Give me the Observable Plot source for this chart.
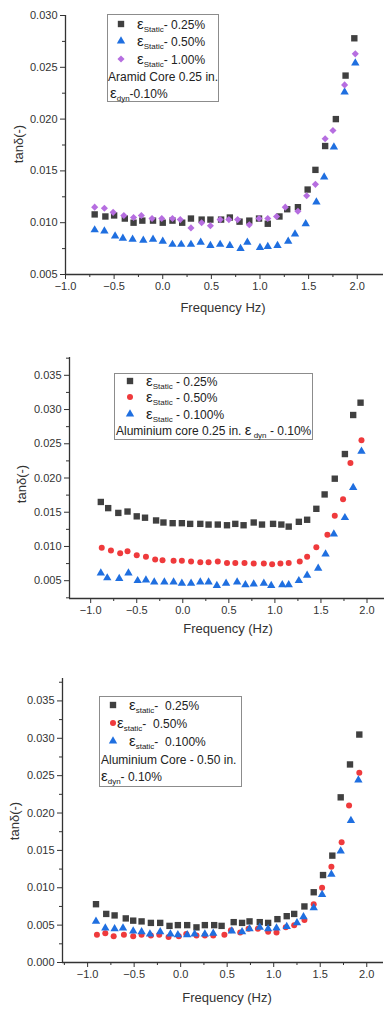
<!DOCTYPE html>
<html>
<head>
<meta charset="utf-8">
<script src="https://cdn.jsdelivr.net/npm/d3@7"></script>
<script src="https://cdn.jsdelivr.net/npm/@observablehq/plot@0.6"></script>
<style>
  html, body { margin: 0; padding: 0; background: #fff; }
  #root { position: relative; width: 385px; height: 1009px; overflow: hidden; background: #fff;
          font-family: "Liberation Sans", Arial, sans-serif; color: #333; }
  .fig { position: absolute; left: 0; }
  .lab { position: absolute; white-space: nowrap; font-size: 13px; color: #333; line-height: 16px; }
  .ylab { transform: translate(-50%, -50%) rotate(-90deg); }
  .xlab { transform: translate(-50%, -50%); }
  .box { position: absolute; border: 1px solid #8c8c8c; background: #fff; box-sizing: border-box; }
  .row { position: absolute; white-space: nowrap; font-size: 12px; line-height: 16px; color: #222; }
  .eps { font-size: 15px; }
  .sub { font-size: 8px; vertical-align: -3px; }
</style>
</head>
<body>
<div id="root"></div>
<script>
// ---------------- DATA ----------------
// Panel 1: Aramid Core 0.25 in.
const p1SqX  = [-0.70,-0.59,-0.50,-0.39,-0.30,-0.21,-0.10,0.00,0.10,0.20,0.29,0.40,0.49,0.60,0.69,0.79,0.89,0.99,1.08,1.20,1.28,1.39,1.49,1.57,1.67,1.78,1.88,1.97];
const p1SqY  = [0.0108,0.0106,0.0107,0.0104,0.0100,0.0102,0.0102,0.0100,0.0102,0.0100,0.0104,0.0103,0.0103,0.0103,0.0105,0.0101,0.0102,0.0104,0.0099,0.0106,0.0113,0.0115,0.0132,0.0151,0.0174,0.0200,0.0242,0.0278];
const p1TriX = [-0.70,-0.60,-0.49,-0.41,-0.31,-0.20,-0.10,0.00,0.10,0.19,0.29,0.39,0.49,0.59,0.69,0.80,0.87,1.00,1.08,1.18,1.29,1.36,1.47,1.58,1.66,1.76,1.87,1.98];
const p1TriY = [0.0093,0.0092,0.0087,0.0085,0.0084,0.0083,0.0084,0.0082,0.0079,0.0079,0.0079,0.0081,0.0078,0.0079,0.0078,0.0075,0.0081,0.0076,0.0077,0.0078,0.0082,0.0089,0.0099,0.0120,0.0144,0.0173,0.0226,0.0254];
const p1DiaX = [-0.70,-0.60,-0.51,-0.40,-0.30,-0.22,-0.11,-0.01,0.10,0.18,0.29,0.40,0.49,0.59,0.68,0.77,0.89,0.99,1.08,1.17,1.26,1.39,1.48,1.57,1.67,1.75,1.87,1.98];
const p1DiaY = [0.0115,0.0114,0.0110,0.0107,0.0105,0.0107,0.0104,0.0104,0.0104,0.0103,0.0095,0.0100,0.0097,0.0103,0.0103,0.0103,0.0098,0.0104,0.0104,0.0106,0.0115,0.0111,0.0126,0.0137,0.0181,0.0189,0.0233,0.0263];

// Panel 2: Aluminium core 0.25 in.
const p2SqX  = [-0.89,-0.81,-0.70,-0.60,-0.50,-0.41,-0.29,-0.21,-0.11,-0.01,0.08,0.19,0.28,0.38,0.48,0.57,0.66,0.77,0.86,0.98,1.07,1.15,1.26,1.35,1.45,1.54,1.65,1.76,1.85,1.93];
const p2SqY  = [0.0165,0.0156,0.0149,0.0151,0.0144,0.0142,0.0138,0.0135,0.0134,0.0134,0.0133,0.0133,0.0132,0.0132,0.0131,0.0133,0.0131,0.0135,0.0132,0.0133,0.0132,0.0129,0.0136,0.0139,0.0155,0.0176,0.0199,0.0235,0.0292,0.0310];
const p2CirX = [-0.88,-0.78,-0.68,-0.60,-0.50,-0.40,-0.30,-0.22,-0.10,-0.01,0.09,0.19,0.28,0.38,0.48,0.57,0.67,0.77,0.88,0.97,1.06,1.15,1.27,1.35,1.45,1.57,1.65,1.74,1.82,1.94];
const p2CirY = [0.0098,0.0094,0.0090,0.0093,0.0087,0.0085,0.0081,0.0080,0.0079,0.0079,0.0078,0.0077,0.0077,0.0078,0.0076,0.0076,0.0076,0.0075,0.0075,0.0074,0.0075,0.0076,0.0078,0.0085,0.0099,0.0117,0.0145,0.0169,0.0222,0.0255];
const p2TriX = [-0.89,-0.82,-0.69,-0.59,-0.49,-0.40,-0.31,-0.20,-0.10,-0.01,0.09,0.19,0.28,0.37,0.47,0.59,0.68,0.77,0.88,0.96,1.08,1.15,1.26,1.35,1.47,1.55,1.64,1.76,1.85,1.94];
const p2TriY = [0.0061,0.0054,0.0053,0.0061,0.0050,0.0051,0.0048,0.0048,0.0048,0.0046,0.0046,0.0048,0.0048,0.0043,0.0046,0.0048,0.0044,0.0045,0.0046,0.0043,0.0044,0.0044,0.0050,0.0058,0.0068,0.0089,0.0118,0.0142,0.0186,0.0239];

// Panel 3: Aluminium Core - 0.50 in.
const p3SqX  = [-0.91,-0.80,-0.71,-0.59,-0.51,-0.42,-0.32,-0.22,-0.12,-0.03,0.07,0.17,0.26,0.36,0.44,0.57,0.66,0.74,0.85,0.94,1.04,1.14,1.22,1.33,1.43,1.53,1.63,1.72,1.82,1.92];
const p3SqY  = [0.0078,0.0065,0.0063,0.0059,0.0056,0.0055,0.0053,0.0053,0.0049,0.0050,0.0050,0.0047,0.0050,0.0050,0.0049,0.0054,0.0053,0.0055,0.0054,0.0053,0.0058,0.0062,0.0065,0.0075,0.0094,0.0117,0.0143,0.0221,0.0265,0.0305];
const p3CirX = [-0.90,-0.81,-0.72,-0.61,-0.51,-0.42,-0.32,-0.23,-0.13,-0.02,0.06,0.17,0.26,0.35,0.47,0.54,0.64,0.73,0.83,0.94,1.03,1.13,1.22,1.33,1.43,1.52,1.62,1.73,1.81,1.92];
const p3CirY = [0.0037,0.0039,0.0035,0.0037,0.0035,0.0037,0.0036,0.0037,0.0034,0.0035,0.0038,0.0036,0.0036,0.0036,0.0037,0.0043,0.0040,0.0045,0.0045,0.0041,0.0040,0.0047,0.0050,0.0057,0.0078,0.0100,0.0128,0.0161,0.0210,0.0254];
const p3TriX = [-0.91,-0.81,-0.71,-0.62,-0.51,-0.42,-0.33,-0.22,-0.11,-0.03,0.07,0.15,0.26,0.35,0.55,0.66,0.74,0.85,0.94,1.03,1.14,1.25,1.32,1.43,1.52,1.62,1.72,1.83,1.91];
const p3TriY = [0.0055,0.0046,0.0045,0.0046,0.0042,0.0041,0.0038,0.0041,0.0038,0.0037,0.0037,0.0038,0.0038,0.0039,0.0042,0.0041,0.0045,0.0047,0.0045,0.0046,0.0048,0.0053,0.0061,0.0073,0.0091,0.0118,0.0149,0.0190,0.0244];

// Tick values
const xMajor = [-1.0,-0.5,0.0,0.5,1.0,1.5,2.0];
const xMinor = [-1.25,-0.75,-0.25,0.25,0.75,1.25,1.75];
const y1Major = [0.005,0.010,0.015,0.020,0.025,0.030];
const y1Minor = [0.0075,0.0125,0.0175,0.0225,0.0275];
const y2Major = [0.005,0.010,0.015,0.020,0.025,0.030,0.035];
const y2Minor = [0.0025,0.0075,0.0125,0.0175,0.0225,0.0275,0.0325,0.0375];
const y3Major = [0.000,0.005,0.010,0.015,0.020,0.025,0.030,0.035];
const y3Minor = [0.0025,0.0075,0.0125,0.0175,0.0225,0.0275,0.0325,0.0375];

// Colours
const cSq = "#404040", cTri = "#1f6fe0", cDia = "#b66ee0", cCir = "#ef3a3c";
const sym = {square: {r: 3.6, fill: cSq}, triangle: {r: 3.1, fill: cTri}, diamond2: {r: 3.2, fill: cDia}, circle: {r: 3.0, fill: cCir}};

const root = document.getElementById("root");

function rows(xs, ys) { return xs.map((d, i) => ({x: d, y: ys[i]})); }

function panel(cfg) {
  const marks = [
    Plot.axisY({ticks: cfg.yMinor, tickSize: 3, tickFormat: () => "", label: null, stroke: "#333"}),
    Plot.axisY({ticks: cfg.yMajor, tickSize: 5, tickPadding: 3, tickFormat: d3.format(".3f"), label: null, stroke: "#333"}),
    Plot.axisX({ticks: xMinor.filter(v => v > cfg.xDomain[0] && v < cfg.xDomain[1]), tickSize: 3, tickFormat: () => "", label: null, stroke: "#333"}),
    Plot.axisX({ticks: xMajor, tickSize: 5, tickPadding: 3, tickFormat: d3.format(".1f"), label: null, stroke: "#333"}),
    Plot.ruleX([cfg.xDomain[0]], {stroke: "#333", strokeWidth: 1.3}),
    Plot.ruleY([cfg.yDomain[0]], {stroke: "#333", strokeWidth: 1.3})
  ];
  for (const s of cfg.series) {
    const st = sym[s.symbol];
    marks.push(Plot.dot(rows(s.x, s.y), {x: "x", y: "y", symbol: () => s.symbol, r: st.r, fill: st.fill, stroke: "none"}));
  }
  const svg = Plot.plot({
    width: 385, height: cfg.height,
    marginLeft: cfg.ml, marginRight: cfg.mr, marginTop: cfg.mt, marginBottom: cfg.mb,
    x: {domain: cfg.xDomain},
    y: {domain: cfg.yDomain},
    style: {fontSize: "11px", fontFamily: "'Liberation Sans', Arial, sans-serif", color: "#333", background: "transparent", overflow: "visible"},
    marks
  });
  const wrap = document.createElement("div");
  wrap.className = "fig";
  wrap.style.top = cfg.top + "px";
  wrap.appendChild(svg);
  root.appendChild(wrap);
}

function label(text, cx, cy, cls) {
  const d = document.createElement("div");
  d.className = "lab " + cls;
  d.style.left = cx + "px"; d.style.top = cy + "px";
  d.innerHTML = text;
  root.appendChild(d);
}

function markerSvg(symbol) {
  const st = sym[symbol];
  const symMap = {square: d3.symbolSquare, triangle: d3.symbolTriangle, diamond2: d3.symbolDiamond2, circle: d3.symbolCircle};
  const p = d3.symbol(symMap[symbol], Math.PI * st.r * st.r)();
  return `<svg width="12" height="12" style="position:absolute;left:-6px;top:-6px;overflow:visible"><path transform="translate(6,6)" d="${p}" fill="${st.fill}"/></svg>`;
}

function legend(box, entries) {
  const b = document.createElement("div");
  b.className = "box";
  b.style.left = box[0] + "px"; b.style.top = box[1] + "px";
  b.style.width = (box[2] - box[0]) + "px"; b.style.height = (box[3] - box[1]) + "px";
  root.appendChild(b);
  for (const e of entries) {
    if (e.symbol) {
      const m = document.createElement("div");
      m.style.position = "absolute"; m.style.left = e.mx + "px"; m.style.top = e.y + "px";
      m.innerHTML = markerSvg(e.symbol);
      root.appendChild(m);
    }
    const t = document.createElement("div");
    t.className = "row";
    t.style.left = e.tx + "px"; t.style.top = (e.y - 8) + "px";
    t.innerHTML = e.html;
    root.appendChild(t);
  }
}

const eps = (sub) => `<span class="eps">ε</span><span class="sub">${sub}</span>`;

// ---------------- PANEL 1 ----------------
panel({top: 0, height: 330, ml: 65, mr: 2, mt: 15, mb: 56,
  xDomain: [-1.0, 2.27], yDomain: [0.005, 0.030], yMajor: y1Major, yMinor: y1Minor,
  series: [
    {x: p1SqX, y: p1SqY, symbol: "square"},
    {x: p1TriX, y: p1TriY, symbol: "triangle"},
    {x: p1DiaX, y: p1DiaY, symbol: "diamond2"}
  ]});
label("Frequency Hz)", 223, 308, "xlab");
label("tanδ(-)", 19, 144, "ylab");
legend([107, 14, 219, 102], [
  {symbol: "square", mx: 121, y: 24, tx: 137, html: eps("Static") + "- 0.25%"},
  {symbol: "triangle", mx: 121, y: 41, tx: 137, html: eps("Static") + "- 0.50%"},
  {symbol: "diamond2", mx: 121, y: 59, tx: 137, html: eps("Static") + "- 1.00%"},
  {mx: 0, y: 77, tx: 108, html: "Aramid Core 0.25 in."},
  {mx: 0, y: 93, tx: 110, html: eps("dyn") + "-0.10%"}
]);

// ---------------- PANEL 2 ----------------
panel({top: 330, height: 320, ml: 69, mr: 1, mt: 27, mb: 52,
  xDomain: [-1.23, 2.19], yDomain: [0.0024, 0.0376], yMajor: y2Major, yMinor: y2Minor.filter(v => v > 0.0024 && v < 0.0376),
  series: [
    {x: p2SqX, y: p2SqY, symbol: "square"},
    {x: p2CirX, y: p2CirY, symbol: "circle"},
    {x: p2TriX, y: p2TriY, symbol: "triangle"}
  ]});
label("Frequency (Hz)", 228, 629, "xlab");
label("tanδ(-)", 22, 484, "ylab");
legend([114, 373, 313, 440], [
  {symbol: "square", mx: 130, y: 381, tx: 146, html: eps("Static") + " - 0.25%"},
  {symbol: "circle", mx: 130, y: 397, tx: 146, html: eps("Static") + " - 0.50%"},
  {symbol: "triangle", mx: 130, y: 414, tx: 146, html: eps("Static") + " - 0.100%"},
  {mx: 0, y: 430, tx: 116, html: "Aluminium core 0.25 in. " + eps(" dyn") + " - 0.10%"}
]);

// ---------------- PANEL 3 ----------------
panel({top: 650, height: 359, ml: 62, mr: 2, mt: 28, mb: 47,
  xDomain: [-1.27, 2.18], yDomain: [0.000, 0.038], yMajor: y3Major, yMinor: y3Minor,
  series: [
    {x: p3SqX, y: p3SqY, symbol: "square"},
    {x: p3CirX, y: p3CirY, symbol: "circle"},
    {x: p3TriX, y: p3TriY, symbol: "triangle"}
  ]});
label("Frequency (Hz)", 227, 998, "xlab");
label("tanδ(-)", 15, 821, "ylab");
legend([99, 696, 242, 787], [
  {symbol: "square", mx: 113, y: 705, tx: 129, html: eps("static") + "-&nbsp; 0.25%"},
  {symbol: "circle", mx: 113, y: 723, tx: 117, html: eps("static") + "-&nbsp; 0.50%"},
  {symbol: "triangle", mx: 113, y: 741, tx: 129, html: eps("static") + "-&nbsp; 0.100%"},
  {mx: 0, y: 760, tx: 101, html: "Aluminium Core - 0.50 in."},
  {mx: 0, y: 776, tx: 101, html: eps("dyn") + "- 0.10%"}
]);
</script>
</body>
</html>
